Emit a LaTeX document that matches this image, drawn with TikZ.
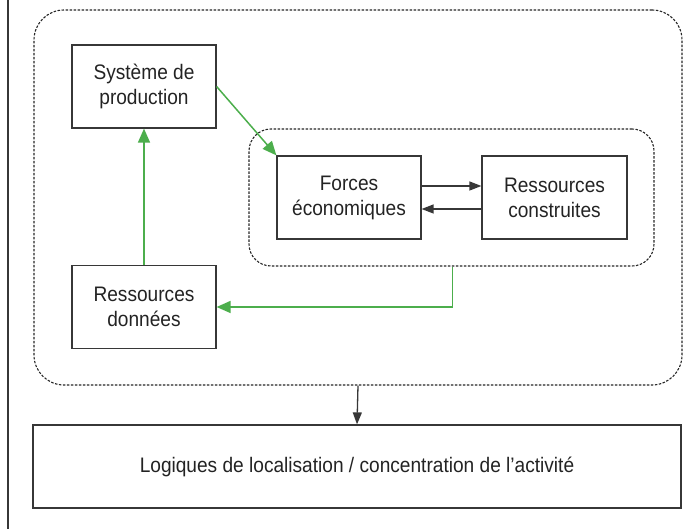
\documentclass[tikz,border=0pt]{standalone}
\usepackage{fontspec}
\setmainfont{Liberation Sans}[FakeStretch=0.91]
\usetikzlibrary{arrows.meta}
\definecolor{vert}{RGB}{76,174,76}
\definecolor{trait}{RGB}{55,55,55}
\definecolor{texte}{RGB}{35,35,35}
\tikzset{
  boite/.style={draw=trait, line width=1.2pt, minimum width=144pt, minimum height=83pt,
                align=center, text=texte, font=\fontsize{21}{25}\selectfont},
  zone/.style={draw=black!85, line width=1.1pt, dash pattern=on 2.5pt off 1.5pt},
  lien/.style={draw=vert, line width=1.5pt, -{Triangle[length=14pt,width=12pt]}},
  fleche/.style={draw=trait, line width=1.3pt, -{Triangle[length=12pt,width=9pt]}, color=trait}
}
\begin{document}
\begin{tikzpicture}[x=1pt,y=1pt]
                    \useasboundingbox (0,0) rectangle (697,529);
                    \draw[trait, line width=1.5pt] (8,0) -- (8,529);
                    % zones
                    \node[zone, rounded corners=30pt, minimum width=648pt, minimum height=375pt] (global) at (358,331.5) {};
                    \node[zone, rounded corners=22pt, minimum width=405pt, minimum height=137pt] (interne) at (451.5,331.5) {};
                    % boites
                    \node[boite] (systeme)   at (144,442.5) {Système de\\production};
                    \node[boite] (donnees)   at (144,222)   {Ressources\\données};
                    \node[boite] (forces)    at (349,331.5) {Forces\\économiques};
                    \node[boite, minimum width=145pt] (construites) at (554.5,331.5) {Ressources\\construites};
                    \node[boite, minimum width=648pt] (logiques) at (357,62.5) {Logiques de localisation / concentration de l’activité};
                    % liens
                    \draw[lien] (systeme.east) -- (forces.north west);
                    \draw[lien] (donnees.north) -- (systeme.south);
                    \draw[lien] ([xshift=1pt]interne.south) |- (donnees.east);
                    \draw[fleche] ([yshift=11.5pt]forces.east) -- ([yshift=11.5pt]construites.west);
                    \draw[fleche] ([yshift=-11.5pt]construites.west) -- ([yshift=-11.5pt]forces.east);
                    \draw[fleche] (global.south) -- (logiques.north);
                \end{tikzpicture}
\end{document}
